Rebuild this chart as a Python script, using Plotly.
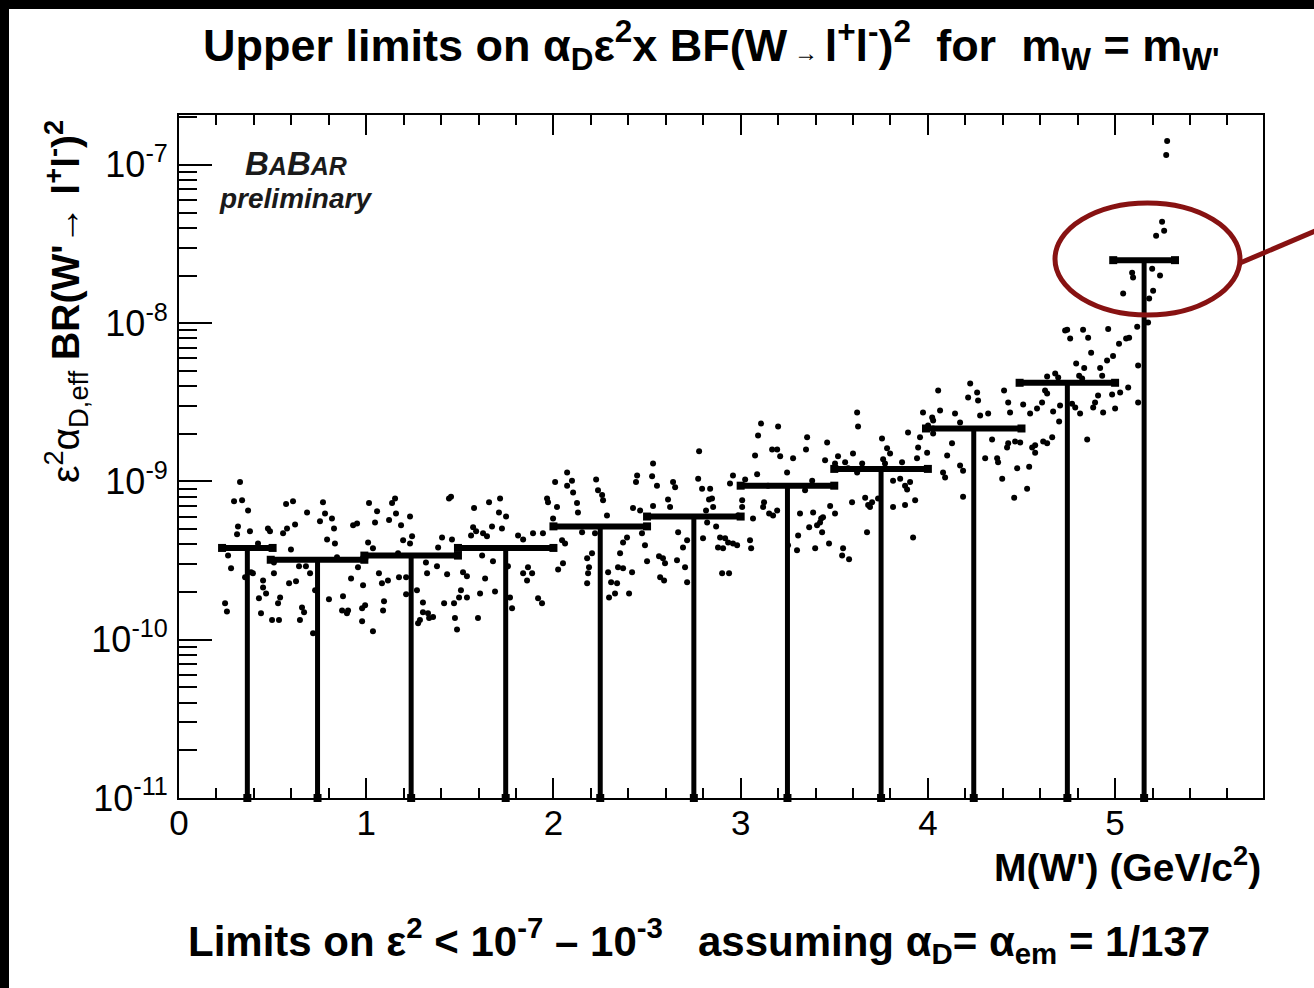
import plotly.graph_objects as go

# ---------------- data ----------------
# scan points: W' mass (GeV/c^2) and limit value in units of 1e-10
scan_mass = [
    0.326, 0.294, 0.337, 0.369, 0.315, 0.310, 0.379, 0.422, 0.475, 0.486,
    0.262, 0.278, 0.246, 0.256, 0.353, 0.385, 0.395, 0.449, 0.449, 0.465,
    0.427, 0.438, 0.497, 0.534, 0.507, 0.540, 0.529, 0.507, 0.556, 0.577,
    0.572, 0.609, 0.620, 0.598, 0.588, 0.625, 0.641, 0.678, 0.684, 0.657,
    0.668, 0.646, 0.716, 0.700, 0.727, 0.769, 0.753, 0.780, 0.817, 0.828,
    0.791, 0.833, 0.844, 0.801, 0.876, 0.871, 0.897, 0.903, 0.930, 0.951,
    0.919, 0.956, 0.978, 0.994, 0.978, 1.036, 0.983, 1.010, 1.036, 1.015,
    1.058, 1.047, 1.138, 1.154, 1.159, 1.122, 1.186, 1.234, 1.197, 1.234,
    1.245, 1.170, 1.068, 1.084, 1.116, 1.095, 1.090, 1.175, 1.213, 1.213,
    1.271, 1.277, 1.287, 1.303, 1.303, 1.330, 1.357, 1.336, 1.325, 1.378,
    1.432, 1.319, 1.405, 1.458, 1.384, 1.442, 1.453, 1.416, 1.469, 1.474,
    1.485, 1.517, 1.538, 1.506, 1.496, 1.538, 1.597, 1.608, 1.571, 1.560,
    1.587, 1.576, 1.656, 1.715, 1.709, 1.747, 1.672, 1.725, 1.624, 1.645,
    1.619, 1.677, 1.635, 1.688, 1.757, 1.768, 1.779, 1.811, 1.838, 1.838,
    1.864, 1.859, 1.886, 1.918, 1.939, 1.891, 1.944, 1.971, 1.966, 2.019,
    2.009, 2.073, 2.099, 2.073, 2.105, 1.998, 2.046, 2.062, 2.051, 2.025, 2.126, 2.131,
    2.153, 2.180, 2.206, 2.190, 2.185, 2.180, 2.228, 2.238, 2.260, 2.265,
    2.222, 2.286, 2.292, 2.308, 2.340, 2.297, 2.329, 2.356, 2.345, 2.372,
    2.372, 2.393, 2.404, 2.420, 2.447, 2.441, 2.463, 2.425, 2.473, 2.489,
    2.500, 2.532, 2.527, 2.553, 2.532, 2.564, 2.585, 2.596, 2.570, 2.591,
    2.612, 2.623, 2.639, 2.650, 2.660, 2.666, 2.703, 2.714, 2.692, 2.714,
    2.773, 2.794, 2.778, 2.837, 2.847, 2.831, 2.853, 2.815, 2.799, 2.821,
    2.869, 2.890, 2.917, 2.879, 2.906, 2.901, 2.938, 2.933, 2.959, 2.981,
    2.959, 2.943, 2.986, 3.008, 3.008, 3.024, 3.050, 3.056, 3.066, 3.077,
    3.093, 3.109, 3.088, 3.120, 3.125, 3.168, 3.195, 3.152, 3.173, 3.195,
    3.146, 3.200, 3.211, 3.248, 3.253, 3.280, 3.301, 3.307, 3.317, 3.344,
    3.355, 3.349, 3.366, 3.382, 3.387, 3.398, 3.408, 3.424, 3.435, 3.430,
    3.440, 3.462, 3.451, 3.472, 3.478, 3.504, 3.504, 3.520, 3.542, 3.547,
    3.579, 3.558, 3.574, 3.595, 3.600, 3.622, 3.627, 3.649, 3.622, 3.665,
    3.675, 3.681, 3.702, 3.691, 3.734, 3.755, 3.782, 3.798, 3.761, 3.771,
    3.814, 3.814, 3.862, 3.852, 3.878, 3.905, 3.889, 3.894, 3.921, 3.932,
    3.942, 3.948, 3.958, 3.974, 4.023, 4.001, 4.028, 3.996,
    5.278, 5.273, 5.251, 5.262, 5.219, 5.091, 5.096, 5.043, 5.198, 5.240,
    5.203, 5.182, 5.176, 5.160, 5.118, 5.075, 5.059, 5.021, 4.989, 4.957,
    4.920, 4.963, 4.829, 4.744, 4.733, 4.760, 4.856, 4.872, 4.792, 4.835,
    4.931, 4.808, 4.824, 4.637, 4.680, 4.696, 5.123, 5.123, 5.070, 5.027,
    4.984, 4.909, 4.893, 4.883, 4.936, 5.000, 4.813, 4.851, 4.770, 4.787,
    4.706, 4.669, 4.701, 4.626, 4.637, 4.610, 4.583, 4.546, 4.509, 4.439,
    4.429, 4.407, 4.664, 4.616, 4.637, 4.493, 4.466, 4.429, 4.423, 4.573,
    4.557, 4.573, 4.541, 4.477, 4.530, 4.461, 4.397, 4.370, 4.375, 4.343,
    4.306, 4.322, 4.279, 4.263, 4.268, 4.215, 4.226, 4.145, 4.172, 4.065,
    4.028, 4.055, 4.129, 4.103, 4.081, 4.092, 4.172, 4.188, 4.188, 4.028, 3.878,
]
scan_limit_e10 = [
    9.9, 7.5, 7.6, 6.56, 5.2, 4.63, 4.84, 4.06, 5.05, 4.84,
    3.41, 2.83, 1.70, 1.51, 2.48, 2.67, 2.63, 2.37, 2.14, 1.96,
    1.83, 1.47, 1.33, 1.33, 2.63, 1.85, 1.70, 3.08, 4.70, 5.05,
    7.2, 7.5, 5.35, 3.72, 2.27, 2.34, 2.91, 2.91, 6.37, 1.60,
    1.49, 1.33, 1.10, 2.63, 2.05, 7.4, 5.6, 6.28, 5.84, 5.05,
    4.30, 4.06, 3.32, 1.80, 1.88, 1.53, 1.47, 1.53, 5.28, 5.43,
    2.44, 2.87, 1.58, 1.65, 1.31, 1.13, 2.21, 4.12, 3.78, 7.3,
    6.47, 5.5, 7.3, 7.8, 6.28, 5.7, 5.28, 6.0, 4.25, 4.06,
    4.5, 3.52, 2.63, 2.27, 2.37, 1.75, 1.53, 2.48, 2.48, 1.94,
    2.05, 1.27, 1.33, 1.72, 1.49, 1.47, 1.39, 1.37, 2.63, 2.91,
    2.59, 3.08, 4.43, 4.30, 3.83, 7.8, 8.0, 1.70, 1.70, 1.37,
    1.16, 2.67, 2.52, 2.05, 1.85, 1.85, 1.37, 1.96, 5.13, 4.56,
    4.84, 6.8, 7.4, 7.8, 6.37, 6.0, 5.2, 5.05, 4.70, 4.50,
    3.41, 3.13, 2.44, 2.02, 2.91, 1.85, 1.58, 4.56, 4.30, 2.63,
    2.87, 2.37, 2.63, 1.83, 1.70, 4.70, 4.70, 7.4, 7.8, 6.9,
    9.9, 11.4, 10.1, 9.4, 8.5, 5.84, 4.25, 4.06, 3.04, 2.78, 7.3, 6.37,
    4.77, 3.27, 3.52, 2.87, 2.63, 2.27, 10.3, 8.8, 8.2, 7.6,
    4.70, 6.1, 2.67, 2.31, 2.27, 1.85, 1.96, 3.52, 2.87, 2.83,
    4.12, 4.43, 1.96, 2.67, 10.9, 9.9, 6.56, 6.8, 4.70, 3.95,
    3.13, 13.0, 10.8, 9.4, 7.0, 3.37, 3.27, 3.04, 2.48, 2.37,
    7.7, 6.9, 9.9, 9.2, 3.18, 4.77, 2.87, 2.31, 3.83, 4.25,
    10.4, 9.0, 15.5, 9.0, 7.8, 7.7, 6.9, 6.56, 4.37, 5.5,
    5.2, 4.43, 4.37, 3.83, 3.78, 2.63, 2.63, 4.12, 4.06, 3.95,
    10.9, 9.7, 6.1, 7.6, 6.9, 10.3, 4.25, 3.78, 5.84, 14.6,
    19.5, 23.2, 11.1, 6.9, 7.4, 15.9, 15.9, 6.28, 6.1, 6.56,
    9.4, 22.2, 14.4, 11.4, 3.95, 14.0, 3.67, 4.56, 6.28, 8.8,
    19.0, 15.9, 5.13, 10.1, 6.37, 3.78, 5.28, 5.5, 4.77, 5.84,
    5.93, 17.6, 13.6, 4.06, 7.0, 6.28, 13.0, 14.4, 3.41, 3.78,
    3.22, 13.2, 12.1, 7.4, 15.0, 27.3, 22.2, 13.0, 11.4, 7.9,
    4.77, 7.1, 7.4, 6.9, 7.8, 18.7, 16.2, 15.0, 13.8, 13.0,
    6.9, 10.1, 13.2, 10.4, 9.4, 9.9, 8.9, 20.4, 4.43, 7.6,
    14.0, 16.4, 19.0, 27.3, 25.3, 22.6, 21.6, 15.2,
    1416, 1156, 437, 383, 356, 208, 194, 154, 221, 200,
    160, 143, 101, 101, 95, 81, 80, 74, 62, 58,
    52, 92, 91, 91, 90, 80, 81, 65, 55.5, 52,
    46.6, 46.6, 44.7, 46, 48, 45.3, 54, 31.5, 39.2, 36.5,
    35.4, 34.9, 31.5, 29.3, 27.3, 28.9, 26.9, 18.4, 31.0, 29.3,
    30.2, 27.7, 23.9, 37.5, 35.9, 31.5, 28.9, 26.9, 30.6, 27.3,
    31.5, 37.5, 19.0, 17.9, 17.4, 17.6, 17.9, 17.4, 16.4, 16.9,
    16.4, 15.2, 12.4, 12.1, 9.0, 7.9, 10.4, 14.0, 13.2, 18.4,
    14.0, 26.9, 26.1, 36.5, 32.4, 33.9, 41.5, 26.9, 23.6, 28.1,
    24.3, 37.5, 17.4, 14.6, 11.4, 10.6, 12.6, 11.7, 8.0, 20.1, 7.1,
]

# binned upper limits
bin_lo = [0.23, 0.49, 0.99, 1.49, 2.00, 2.50, 3.00, 3.50, 3.99, 4.49, 4.99]
bin_hi = [0.50, 0.99, 1.49, 2.00, 2.50, 3.00, 3.50, 4.00, 4.50, 5.00, 5.32]
bin_limit_e10 = [3.8, 3.2, 3.4, 3.8, 5.2, 6.0, 9.4, 12.0, 21.6, 42.0, 250.0]

x_ticks = [0, 1, 2, 3, 4, 5]
y_tick_exp = [-11, -10, -9, -8, -7]

UNIT = 1e-10
Y_MIN_EXP, Y_MAX_EXP = -11, -6.685
X_MIN, X_MAX = 0, 5.79

scan_limit = [v * UNIT for v in scan_limit_e10]
bin_limit = [v * UNIT for v in bin_limit_e10]
bin_center = [(a + b) / 2 for a, b in zip(bin_lo, bin_hi)]
y_floor = 10 ** Y_MIN_EXP

# ---------------- traces ----------------
cap_x, cap_y, ver_x, ver_y, end_x, end_y = [], [], [], [], [], []
for lo, hi, c, v in zip(bin_lo, bin_hi, bin_center, bin_limit):
    cap_x += [lo, hi, None]
    cap_y += [v, v, None]
    ver_x += [c, c, None]
    ver_y += [v, y_floor, None]
    end_x += [lo, hi, c]
    end_y += [v, v, y_floor]

fig = go.Figure()
fig.add_trace(go.Scatter(x=scan_mass, y=scan_limit, mode="markers",
                         marker=dict(color="black", size=6, symbol="circle"),
                         hoverinfo="x+y"))
fig.add_trace(go.Scatter(x=ver_x, y=ver_y, mode="lines",
                         line=dict(color="black", width=5), hoverinfo="skip"))
fig.add_trace(go.Scatter(x=cap_x, y=cap_y, mode="lines",
                         line=dict(color="black", width=6), hoverinfo="skip"))
fig.add_trace(go.Scatter(x=end_x, y=end_y, mode="markers", cliponaxis=False,
                         marker=dict(color="black", size=8, symbol="square"),
                         hoverinfo="skip"))

# ---------------- layout ----------------
W, H = 1314, 988
L, R, T, B = 179, 51, 115, 190
PW, PH = W - L - R, H - T - B


def px(xpix):
    return (xpix - L) / PW


def py(ypix):
    return (H - B - ypix) / PH


x_tick_font = dict(family="Liberation Sans, Arial, sans-serif", size=35, color="black")
y_tick_font = dict(family="Liberation Sans, Arial, sans-serif", size=36, color="black")

minor_x = [round(0.2 * k, 1) for k in range(1, 29) if k % 5 != 0]
minor_y = [k * 10 ** e for e in range(-11, -6) for k in range(2, 10)]

fig.update_layout(
    width=W, height=H,
    margin=dict(l=L, r=R, t=T, b=B),
    paper_bgcolor="white", plot_bgcolor="white",
    showlegend=False,
    xaxis=dict(
        range=[X_MIN, X_MAX], showgrid=False, zeroline=False,
        showline=True, linecolor="black", linewidth=2, mirror="ticks",
        ticks="inside", ticklen=20, tickwidth=2, tickcolor="black",
        tickvals=x_ticks, ticktext=[str(t) for t in x_ticks],
        tickfont=x_tick_font, ticklabelstandoff=-7,
        minor=dict(tickvals=minor_x, ticks="inside", ticklen=10,
                   tickwidth=2, tickcolor="black", showgrid=False),
    ),
    yaxis=dict(
        type="log", range=[Y_MIN_EXP, Y_MAX_EXP], showgrid=False, zeroline=False,
        showline=True, linecolor="black", linewidth=2, mirror=True,
        ticks="inside", ticklen=33, tickwidth=2, tickcolor="black",
        tickvals=[10 ** e for e in y_tick_exp],
        ticktext=["10<sup>%d</sup>" % e for e in y_tick_exp],
        tickfont=y_tick_font, ticklabelstandoff=2,
        minor=dict(tickvals=minor_y, ticks="inside", ticklen=18,
                   tickwidth=2, tickcolor="black", showgrid=False),
    ),
)

narrow = "Liberation Sans Narrow, Arial Narrow, Liberation Sans, Arial, sans-serif"
sans = "Liberation Sans, Arial, sans-serif"

annotations = [
    dict(text="<b>Upper limits on α<sub>D</sub>ε<sup>2</sup>x BF(W<span style='font-size:24px'> → </span>l<sup>+</sup>l<sup>-</sup>)<sup>2</sup>  for  m<sub>W</sub> = m<sub>W'</sub></b>",
         x=px(711), y=py(45), font=dict(family=narrow, size=45, color="black")),
    dict(text="<b>Limits on ε<sup>2</sup> < 10<sup>-7</sup> – 10<sup>-3</sup>   assuming α<sub>D</sub>= α<sub>em</sub> = 1/137</b>",
         x=px(699), y=py(940), font=dict(family=narrow, size=42, color="black")),
    dict(text="<b>M(W') (GeV/c<sup>2</sup>)</b>", x=px(1263), y=py(864),
         xanchor="right", font=dict(family=sans, size=39, color="black")),
    dict(text="ε<sup>2</sup>α<sub>D,eff</sub> <b>BR(W'→ l<sup>+</sup>l<sup>-</sup>)<sup>2</sup></b>",
         x=px(66), y=py(302), textangle=-90,
         font=dict(family=sans, size=39, color="black")),
    dict(text="<b><i>B<span style='font-size:25px'>A</span>B<span style='font-size:25px'>AR</span></i></b>",
         x=px(296), y=py(163), font=dict(family=sans, size=33, color="#1a1a1a")),
    dict(text="<b><i>preliminary</i></b>", x=px(295), y=py(198),
         font=dict(family=sans, size=28, color="#1a1a1a")),
]
for a in annotations:
    a.setdefault("xanchor", "center")
    a.update(xref="paper", yref="paper", yanchor="middle", showarrow=False)
fig.update_layout(annotations=annotations)

red = "rgb(135,18,18)"
shapes = [
    # black frame strips of the original slide
    dict(type="rect", x0=px(-5), x1=px(9), y0=py(-5), y1=py(H + 5),
         fillcolor="black", line=dict(width=0)),
    dict(type="rect", x0=px(-5), x1=px(W + 5), y0=py(-5), y1=py(9),
         fillcolor="black", line=dict(width=0)),
    # highlight ellipse and pointer line
    dict(type="circle", x0=px(1055), x1=px(1240), y0=py(315), y1=py(203),
         line=dict(color=red, width=5)),
    dict(type="line", x0=px(1240), y0=py(263), x1=px(1320), y1=py(229),
         line=dict(color=red, width=5)),
]
for s in shapes:
    s.update(xref="paper", yref="paper", layer="above")
fig.update_layout(shapes=shapes)

fig.write_html("out.html")
